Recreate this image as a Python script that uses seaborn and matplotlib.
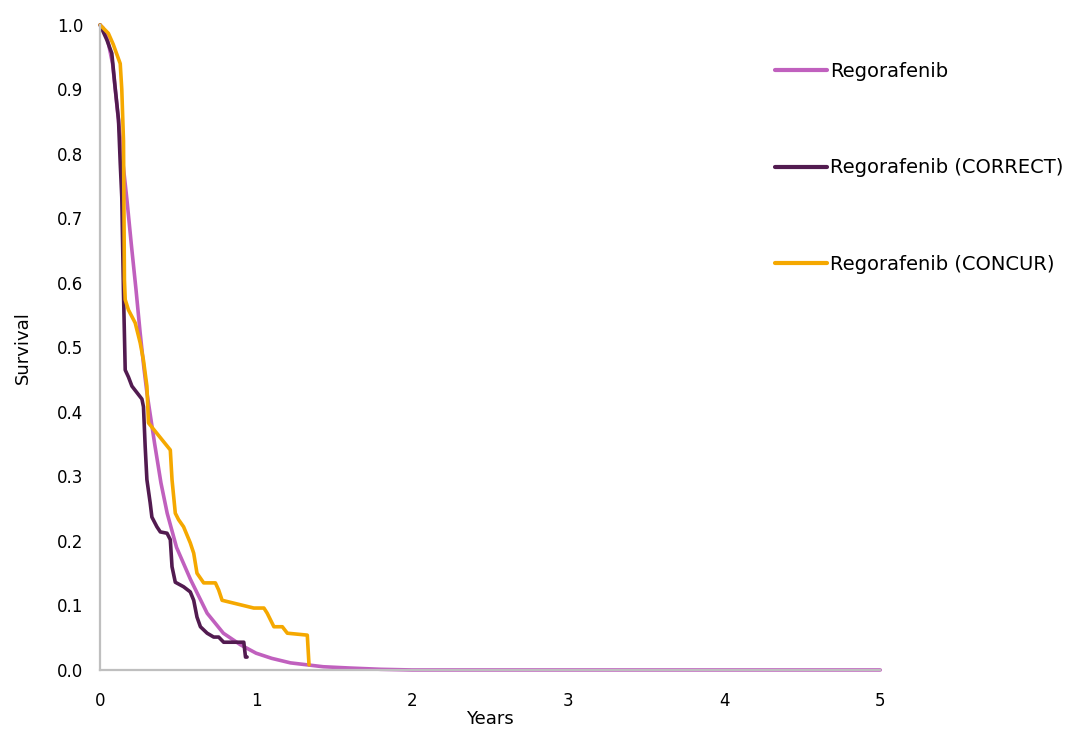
import matplotlib
matplotlib.use("Agg")
import matplotlib.pyplot as plt
import seaborn as sns
import pandas as pd

# ---- data ----
rego_t = [0.0, 0.02, 0.05, 0.08, 0.11, 0.14, 0.172, 0.2, 0.23, 0.257, 0.28, 0.30, 0.35, 0.39,
          0.43, 0.49, 0.58, 0.686, 0.79, 0.9, 1.0, 1.1, 1.22, 1.43, 1.6, 1.8, 2.0, 3.0, 4.0, 5.0]
rego_s = [1.0, 0.995, 0.975, 0.94, 0.87, 0.80, 0.729, 0.66, 0.59, 0.522, 0.47, 0.43, 0.35, 0.29,
          0.243, 0.19, 0.14, 0.088, 0.057, 0.039, 0.026, 0.018, 0.011, 0.005, 0.003, 0.001,
          0.0, 0.0, 0.0, 0.0]

correct_t = [0.0, 0.043, 0.075, 0.096, 0.118, 0.129, 0.139, 0.150, 0.161, 0.182, 0.204, 0.236,
             0.268, 0.278, 0.289, 0.30, 0.321, 0.332, 0.364, 0.386, 0.429, 0.45, 0.461, 0.482,
             0.535, 0.578, 0.60, 0.621, 0.643, 0.686, 0.728, 0.76, 0.792, 0.921, 0.932, 0.942]
correct_s = [1.0, 0.977, 0.956, 0.904, 0.853, 0.786, 0.733, 0.584, 0.465, 0.454, 0.44, 0.43,
             0.42, 0.408, 0.346, 0.295, 0.259, 0.237, 0.222, 0.214, 0.212, 0.202, 0.16, 0.136,
             0.129, 0.121, 0.108, 0.082, 0.067, 0.057, 0.051, 0.051, 0.043, 0.043, 0.02, 0.02]

concur_t = [0.0, 0.053, 0.084, 0.129, 0.139, 0.150, 0.156, 0.161, 0.182, 0.225, 0.257, 0.278,
            0.30, 0.31, 0.45, 0.461, 0.482, 0.503, 0.535, 0.578, 0.60, 0.621, 0.664, 0.739,
            0.76, 0.782, 0.985, 1.05, 1.071, 1.114, 1.168, 1.20, 1.328, 1.339]
concur_s = [1.0, 0.987, 0.97, 0.94, 0.90, 0.82, 0.605, 0.574, 0.558, 0.538, 0.507, 0.48,
            0.44, 0.383, 0.341, 0.295, 0.243, 0.233, 0.222, 0.197, 0.181, 0.15, 0.135, 0.135,
            0.124, 0.108, 0.096, 0.096, 0.088, 0.067, 0.067, 0.057, 0.054, 0.008]

series_names = ["Regorafenib", "Regorafenib (CORRECT)", "Regorafenib (CONCUR)"]
colors = ["#C060BE", "#521B50", "#F5A800"]
x_ticks = [0, 1, 2, 3, 4, 5]
x_tick_labels = ["0", "1", "2", "3", "4", "5"]
y_ticks = [0.0, 0.1, 0.2, 0.3, 0.4, 0.5, 0.6, 0.7, 0.8, 0.9, 1.0]

frames = []
for name, t, s in zip(series_names, [rego_t, correct_t, concur_t], [rego_s, correct_s, concur_s]):
    frames.append(pd.DataFrame({"Years": t, "Survival": s, "Series": name}))
df = pd.concat(frames, ignore_index=True)

sns.set_theme(style="white")
plt.rcParams["font.family"] = ["DejaVu Sans"]

fig = plt.figure(figsize=(10.88, 7.33), dpi=100)
ax = fig.add_axes([0.092, 0.086, 0.717, 0.880])

sns.lineplot(data=df, x="Years", y="Survival", hue="Series", hue_order=series_names,
             palette=dict(zip(series_names, colors)), estimator=None, sort=False,
             linewidth=2.6, ax=ax, legend=True)
for ln in ax.lines:
    ln.set_clip_on(False)
    ln.set_solid_joinstyle("round")

ax.set_xlim(0, 5)
ax.set_ylim(0, 1.0)
ax.set_xticks(x_ticks)
ax.set_xticklabels(x_tick_labels)
ax.set_yticks(y_ticks)
ax.set_yticklabels([f"{v:.1f}" for v in y_ticks])
ax.tick_params(axis="both", length=0, labelsize=12, colors="#000000")
ax.tick_params(axis="x", pad=16)
ax.tick_params(axis="y", pad=12)

for side in ["top", "right"]:
    ax.spines[side].set_visible(False)
for side in ["left", "bottom"]:
    ax.spines[side].set_color("#BFBFBF")
    ax.spines[side].set_linewidth(1.6)
ax.grid(False)

ax.set_xlabel("Years", fontsize=13, labelpad=0, color="#000000")
ax.set_ylabel("Survival", fontsize=13, labelpad=18, color="#000000")

handles, labels = ax.get_legend_handles_labels()
leg = ax.legend(handles, labels, loc="upper left", bbox_to_anchor=(0.712, 0.916),
                bbox_transform=fig.transFigure, frameon=False, fontsize=14,
                handlelength=2.7, handletextpad=0.15, labelspacing=4.0,
                borderpad=0, borderaxespad=0)
for txt in leg.get_texts():
    txt.set_color("#000000")
for lh in leg.get_lines():
    lh.set_linewidth(3)

fig.savefig("out.png", dpi=100, facecolor="white")
